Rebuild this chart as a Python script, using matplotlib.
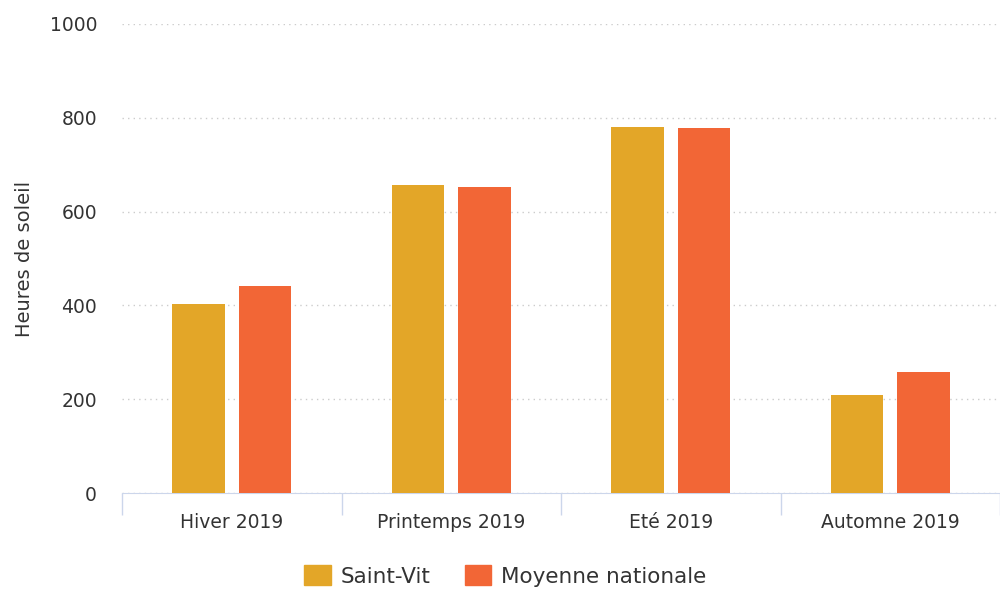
import numpy as np
import matplotlib.pyplot as plt
from matplotlib.patches import Patch

# Data
categories = ['Hiver 2019', 'Printemps 2019', 'Eté 2019', 'Automne 2019']
saint_vit = [403, 657, 780, 209]
moyenne = [442, 653, 779, 259]
series_names = ['Saint-Vit', 'Moyenne nationale']
colors = ['#E3A628', '#F26636']

plt.rcParams['font.family'] = ['DejaVu Sans']

fig = plt.figure(figsize=(10, 5.92), dpi=100)
ax = fig.add_axes([0.122, 0.167, 0.878, 0.7925])

x = np.arange(len(categories))
w = 0.238
ax.bar(x - 0.152, saint_vit, w, color=colors[0], zorder=3)
ax.bar(x + 0.152, moyenne, w, color=colors[1], zorder=3)

ax.set_ylim(0, 1000)
ax.set_xlim(-0.5, 3.455)
ax.set_yticks([0, 200, 400, 600, 800, 1000])
ax.yaxis.grid(True, linestyle=(0, (1, 3)), color='#cccccc', linewidth=1, zorder=0)
ax.tick_params(axis='y', length=0, pad=18, labelsize=13.5, labelcolor='#333333')

# boundary ticks as major, labels on minor ticks
ax.set_xticks([-0.5, 0.5, 1.5, 2.5, 3.5])
ax.set_xticklabels([])
ax.set_xticks(x, minor=True)
ax.set_xticklabels(categories, minor=True)
ax.tick_params(axis='x', which='major', length=16, color='#ccd6eb', width=1)
ax.tick_params(axis='x', which='minor', length=0, pad=14, labelsize=13.5, labelcolor='#333333')

for s in ['top', 'right', 'left']:
    ax.spines[s].set_visible(False)
ax.spines['bottom'].set_color('#ccd6eb')

ax.set_ylabel('Heures de soleil', fontsize=14, color='#333333')
ax.yaxis.set_label_coords(-0.1, 0.5)

handles = [Patch(color=c) for c in colors]
fig.legend(handles, series_names, loc='center', bbox_to_anchor=(0.505, 1 - 576 / 592),
           ncol=2, frameon=False, fontsize=15.5, handlelength=1.25, handleheight=1.0,
           columnspacing=1.6, handletextpad=0.45, labelcolor='#333333')

fig.savefig('out.png', dpi=100)
